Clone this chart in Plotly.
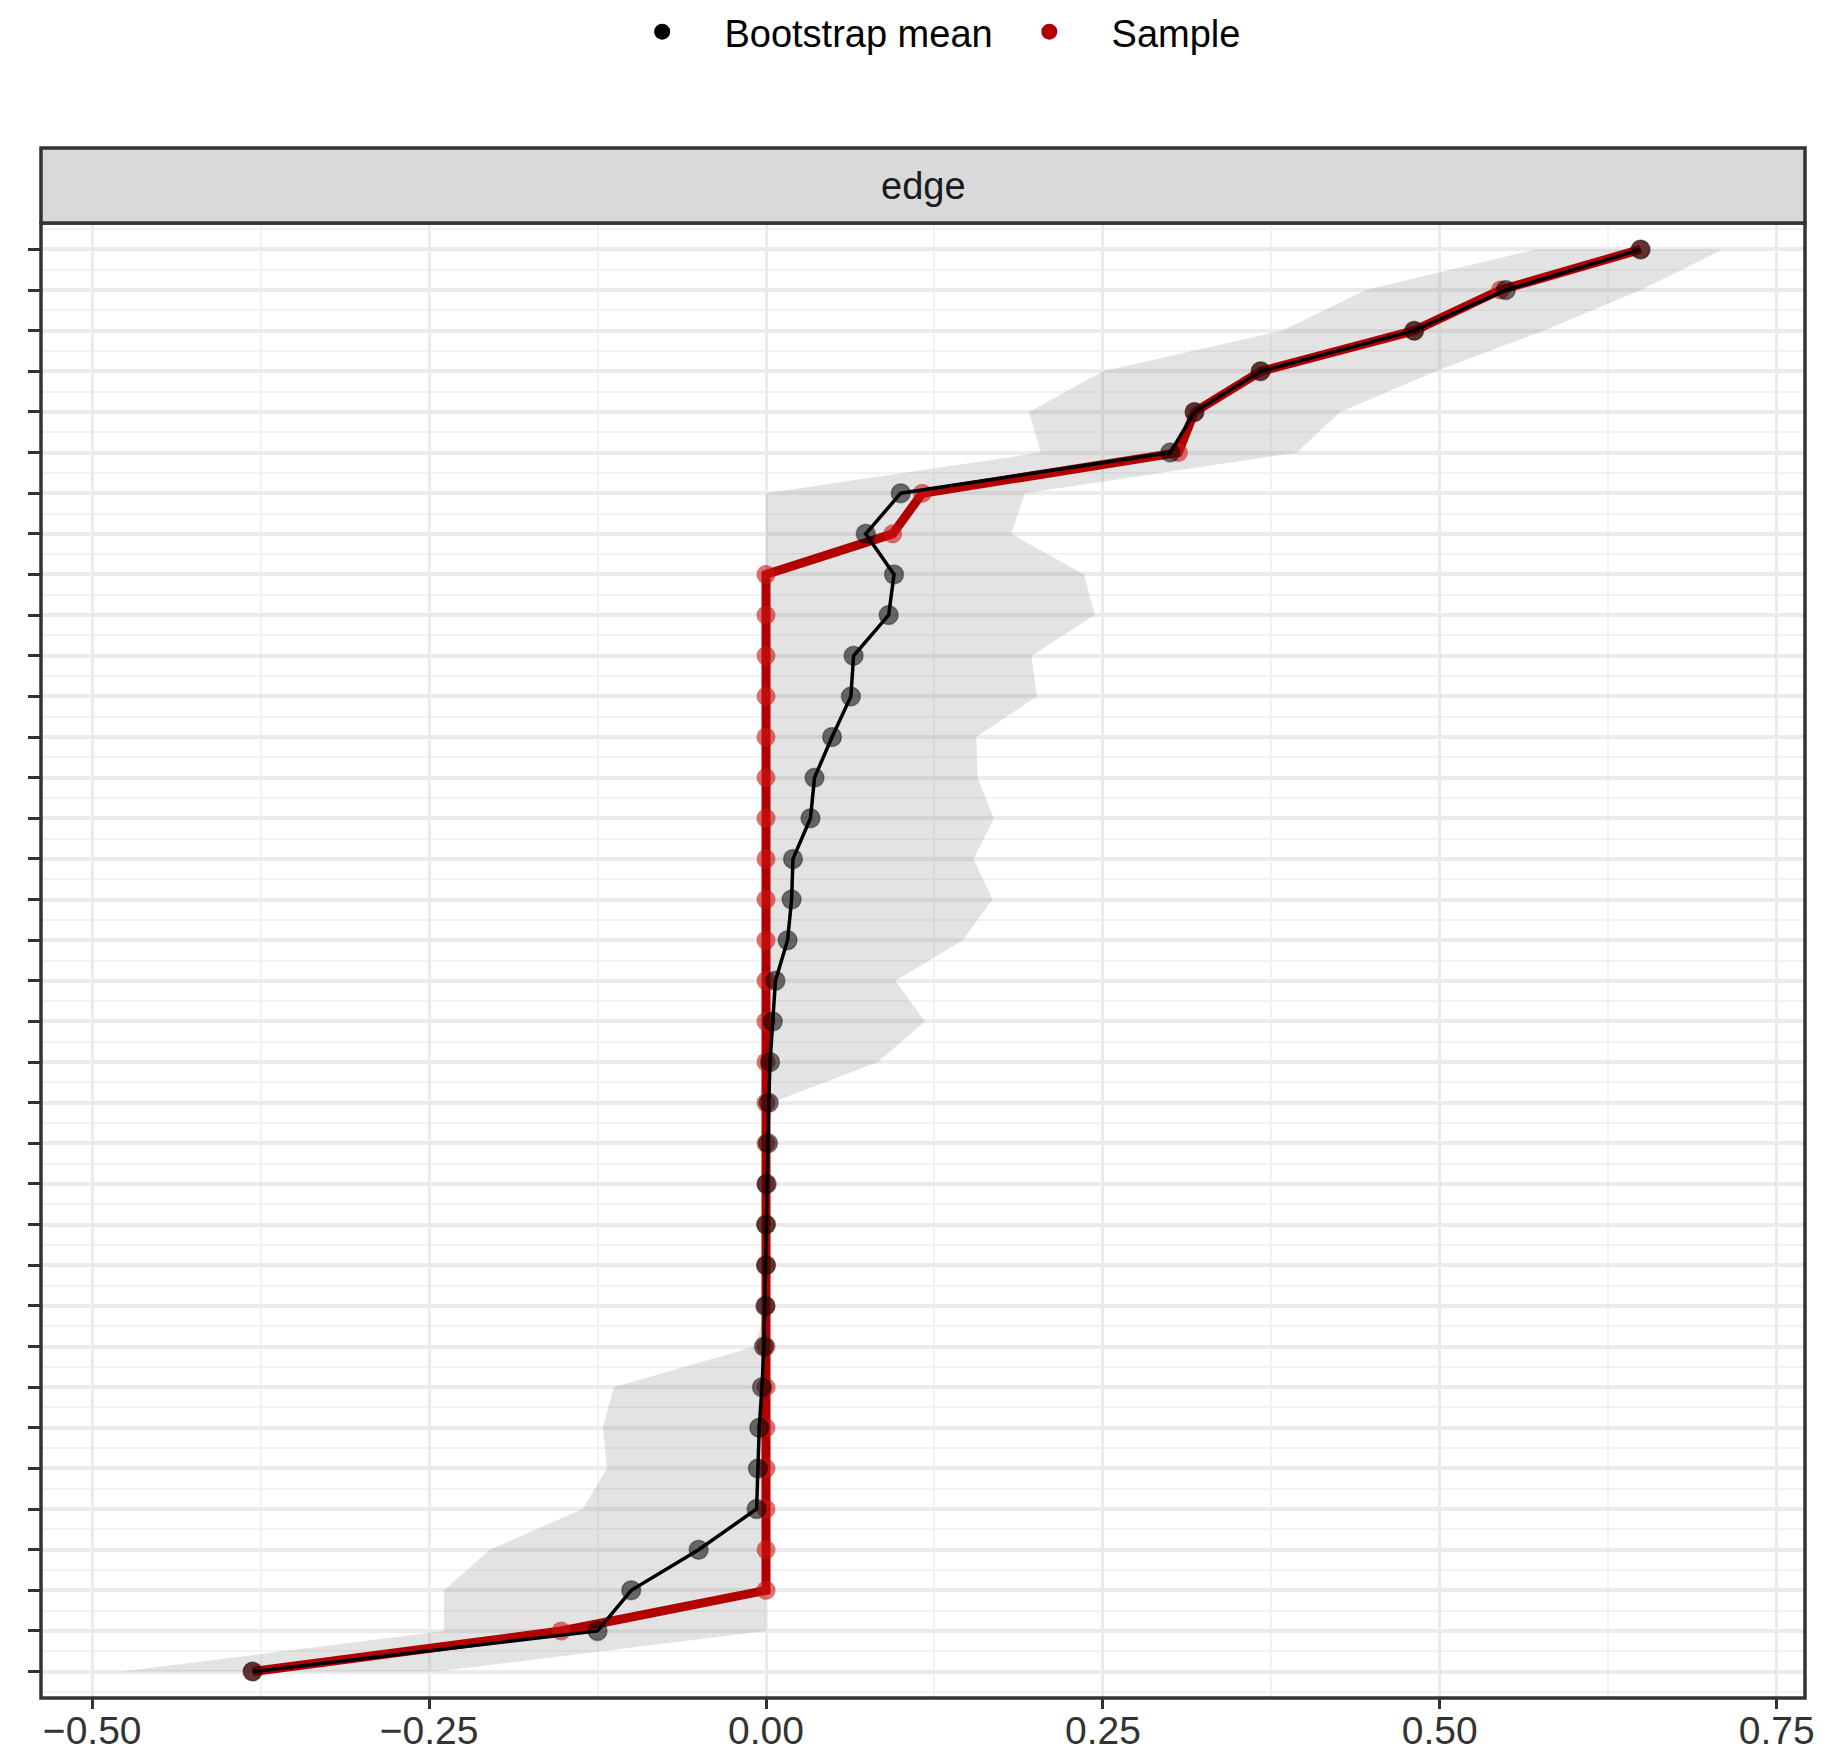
import plotly.graph_objects as go

# Rows listed from top to bottom (36 edges)
row_pos = list(range(36, 0, -1))

bootstrap_mean = [0.649, 0.549, 0.481, 0.367, 0.318, 0.300, 0.100, 0.074, 0.095, 0.091,
                  0.065, 0.063, 0.049, 0.036, 0.033, 0.020, 0.019, 0.016, 0.007, 0.005,
                  0.003, 0.002, 0.0015, 0.0005, 0.0, 0.0, -0.0005, -0.0015, -0.003, -0.005,
                  -0.006, -0.007, -0.050, -0.100, -0.125, -0.381]

sample = [0.649, 0.545, 0.481, 0.367, 0.318, 0.306, 0.116, 0.094, 0.0, 0.0,
          0.0, 0.0, 0.0, 0.0, 0.0, 0.0, 0.0, 0.0, 0.0, 0.0,
          0.0, 0.0, 0.0, 0.0, 0.0, 0.0, 0.0, 0.0, 0.0, 0.0,
          0.0, 0.0, 0.0, 0.0, -0.152, -0.381]

ci_lower = [0.571, 0.445, 0.383, 0.250, 0.195, 0.204, 0.0, 0.0, 0.0, 0.0,
            0.0, 0.0, 0.0, 0.0, 0.0, 0.0, 0.0, 0.0, 0.0, 0.0,
            0.0, 0.0, 0.0, 0.0, 0.0, 0.0, 0.0, -0.008, -0.113, -0.121,
            -0.118, -0.136, -0.205, -0.239, -0.239, -0.478]

ci_upper = [0.710, 0.649, 0.577, 0.497, 0.426, 0.394, 0.192, 0.182, 0.236, 0.244,
            0.197, 0.201, 0.156, 0.157, 0.169, 0.154, 0.168, 0.146, 0.096, 0.118,
            0.083, 0.004, 0.002, 0.001, 0.0, 0.0, 0.0, 0.0, 0.0, 0.0,
            0.0, 0.0, 0.0, 0.0, 0.0, -0.245]

x_ticks = [-0.50, -0.25, 0.00, 0.25, 0.50, 0.75]
strip_label = "edge"
legend_names = ["Bootstrap mean", "Sample"]

RED = "#B20000"
FONT = "Liberation Sans, Arial, sans-serif"
NB = "\u00a0"

fig = go.Figure()

# CI ribbon
fig.add_trace(go.Scatter(
    x=ci_lower + ci_upper[::-1],
    y=row_pos + row_pos[::-1],
    fill="toself", fillcolor="rgba(128,128,128,0.22)",
    line=dict(width=0), mode="lines", hoverinfo="skip", showlegend=False))

# Sample (red)
fig.add_trace(go.Scatter(
    x=sample, y=row_pos, mode="lines+markers",
    line=dict(color=RED, width=9),
    marker=dict(color="rgba(205,20,20,0.6)", size=19),
    showlegend=False))

# Bootstrap mean (black)
fig.add_trace(go.Scatter(
    x=bootstrap_mean, y=row_pos, mode="lines+markers",
    line=dict(color="black", width=3.5),
    marker=dict(color="rgba(0,0,0,0.55)", size=19,
                line=dict(color="rgba(0,0,0,0.35)", width=1.5)),
    showlegend=False))

# legend entries
fig.add_trace(go.Scatter(x=[None], y=[None], mode="markers",
                         name=NB * 4 + legend_names[0] + NB * 3,
                         marker=dict(color="black", size=16)))
fig.add_trace(go.Scatter(x=[None], y=[None], mode="markers",
                         name=NB * 4 + legend_names[1],
                         marker=dict(color=RED, size=16)))

# page body has an 8px margin: figure is placed at (8, 8)
W, H = 1826, 1756
ML, MR, MT, MB = 33, 29, 215, 66
plot_h = H - MT - MB
strip_h = 75 / plot_h

fig.update_layout(
    width=W, height=H,
    margin=dict(l=ML, r=MR, t=MT, b=MB, autoexpand=False),
    paper_bgcolor="white", plot_bgcolor="white",
    font=dict(family=FONT, size=38, color="#1A1A1A"),
    legend=dict(orientation="h", x=0.512, xanchor="center",
                y=1 + (MT - 24) / plot_h, yanchor="middle",
                font=dict(size=38, color="black"), itemsizing="trace",
                bgcolor="rgba(0,0,0,0)"),
    xaxis=dict(range=[-0.538, 0.771], tickmode="array", tickvals=x_ticks,
               tickformat=".2f", ticks="outside", ticklen=10, tickwidth=3,
               tickcolor="#333333", tickfont=dict(size=39, color="#333333"),
               ticklabelstandoff=-12,
               showgrid=True, gridcolor="#EBEBEB", gridwidth=3, zeroline=False,
               minor=dict(dtick=0.25, tick0=0.125, showgrid=True,
                          gridcolor="#F2F2F2", gridwidth=1.5, ticks=""),
               showline=False, automargin=False),
    yaxis=dict(range=[0.35, 36.65], tickmode="linear", tick0=1, dtick=1,
               showticklabels=False, ticks="outside", ticklen=12, tickwidth=3,
               tickcolor="#333333",
               showgrid=True, gridcolor="#EBEBEB", gridwidth=4, zeroline=False,
               minor=dict(dtick=1, tick0=0.5, showgrid=True,
                          gridcolor="#F2F2F2", gridwidth=2, ticks=""),
               showline=False, automargin=False),
    shapes=[
        dict(type="rect", xref="paper", yref="paper", x0=0, x1=1, y0=0, y1=1,
             line=dict(color="#333333", width=3.5), fillcolor="rgba(0,0,0,0)", layer="above"),
        dict(type="rect", xref="paper", yref="paper", x0=0, x1=1, y0=1, y1=1 + strip_h,
             line=dict(color="#333333", width=3.5), fillcolor="#D9D9D9", layer="above"),
    ],
    annotations=[dict(text=strip_label, xref="paper", yref="paper", x=0.5,
                      y=1 + strip_h / 2, showarrow=False, xanchor="center",
                      yanchor="middle", font=dict(size=38, color="#1A1A1A"))],
)

fig.write_html("out.html")
